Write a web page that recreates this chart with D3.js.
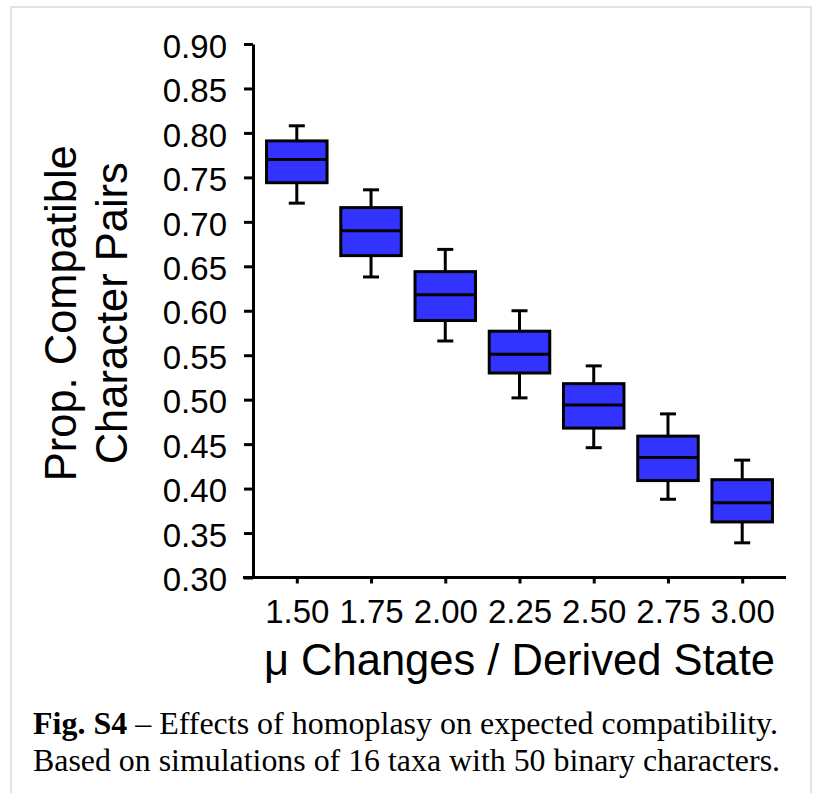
<!DOCTYPE html>
<html>
<head>
<meta charset="utf-8">
<script src="https://cdn.jsdelivr.net/npm/d3@7"></script>
<style>
  html, body { margin: 0; padding: 0; background: #fff; }
  svg { display: block; }
</style>
</head>
<body>
<div id="chart"></div>
<script>
// ---- data ----
const categories = ["1.50", "1.75", "2.00", "2.25", "2.50", "2.75", "3.00"];
const whiskerHigh = [0.808, 0.736, 0.669, 0.600, 0.538, 0.484, 0.432];
const q3Values    = [0.791, 0.716, 0.644, 0.577, 0.518, 0.459, 0.410];
const medians     = [0.770, 0.690, 0.618, 0.551, 0.494, 0.435, 0.384];
const q1Values    = [0.744, 0.662, 0.589, 0.530, 0.468, 0.409, 0.3625];
const whiskerLow  = [0.721, 0.638, 0.566, 0.502, 0.446, 0.388, 0.339];
const yTickValues = [0.30, 0.35, 0.40, 0.45, 0.50, 0.55, 0.60, 0.65, 0.70, 0.75, 0.80, 0.85, 0.90];
const yTitleLines = ["Prop. Compatible", "Character Pairs"];
const xTitle = "\u03bc Changes / Derived State";
const captionBold = "Fig. S4";
const captionRest1 = " \u2013 Effects of homoplasy on expected compatibility.";
const captionLine2 = "Based on simulations of 16 taxa with 50 binary characters.";

const boxes = categories.map((c, i) => ({
  cat: c, hi: whiskerHigh[i], q3: q3Values[i], med: medians[i], q1: q1Values[i], lo: whiskerLow[i]
}));

// ---- layout ----
const W = 813, H = 793;
const plot = { left: 253, right: 786, top: 44, bottom: 577.5 };
const sans = "'Liberation Sans', Arial, Helvetica, sans-serif";
const serif = "'Liberation Serif', 'Times New Roman', Times, serif";
const boxFill = "#3333ff";
const lw = 3;

const svg = d3.select("#chart").append("svg")
  .attr("width", W).attr("height", H);

svg.append("rect").attr("width", W).attr("height", H).attr("fill", "#fff");
svg.append("rect")
  .attr("x", 11).attr("y", 7).attr("width", 800).attr("height", 820)
  .attr("fill", "none").attr("stroke", "#e2e2e2").attr("stroke-width", 2);

const x = d3.scalePoint().domain(categories).range([plot.left, plot.right]).padding(0.59);
const y = d3.scaleLinear().domain([0.30, 0.90]).range([plot.bottom, plot.top]);
const boxW = x.step() * 0.815;
const capW = 16;

// ---- boxes ----
const g = svg.append("g");
const bx = g.selectAll("g.box").data(boxes).join("g").attr("class", "box");

// whiskers
bx.append("line")
  .attr("x1", d => x(d.cat)).attr("x2", d => x(d.cat))
  .attr("y1", d => y(d.hi)).attr("y2", d => y(d.q3))
  .attr("stroke", "#000").attr("stroke-width", lw);
bx.append("line")
  .attr("x1", d => x(d.cat)).attr("x2", d => x(d.cat))
  .attr("y1", d => y(d.q1)).attr("y2", d => y(d.lo))
  .attr("stroke", "#000").attr("stroke-width", lw);
// caps
bx.append("line")
  .attr("x1", d => x(d.cat) - capW / 2).attr("x2", d => x(d.cat) + capW / 2)
  .attr("y1", d => y(d.hi)).attr("y2", d => y(d.hi))
  .attr("stroke", "#000").attr("stroke-width", lw);
bx.append("line")
  .attr("x1", d => x(d.cat) - capW / 2).attr("x2", d => x(d.cat) + capW / 2)
  .attr("y1", d => y(d.lo)).attr("y2", d => y(d.lo))
  .attr("stroke", "#000").attr("stroke-width", lw);
// box
bx.append("rect")
  .attr("x", d => x(d.cat) - boxW / 2)
  .attr("y", d => y(d.q3))
  .attr("width", boxW)
  .attr("height", d => y(d.q1) - y(d.q3))
  .attr("fill", boxFill).attr("stroke", "#000").attr("stroke-width", lw);
// median
bx.append("line")
  .attr("x1", d => x(d.cat) - boxW / 2).attr("x2", d => x(d.cat) + boxW / 2)
  .attr("y1", d => y(d.med)).attr("y2", d => y(d.med))
  .attr("stroke", "#000").attr("stroke-width", lw);

// ---- axes ----
const yAxis = d3.axisLeft(y).tickValues(yTickValues).tickFormat(d3.format(".2f"))
  .tickSize(9).tickSizeOuter(0).tickPadding(17);
const gy = svg.append("g").attr("transform", `translate(${plot.left},0)`).call(yAxis);
gy.select(".domain").attr("stroke-width", lw);
gy.selectAll(".tick line").attr("stroke-width", lw);
gy.selectAll(".tick text").attr("font-family", sans).attr("font-size", 33).attr("fill", "#000")
  .attr("dy", "0.4em");

const xAxis = d3.axisBottom(x).tickSize(6).tickSizeOuter(0).tickPadding(16);
const gx = svg.append("g").attr("transform", `translate(0,${plot.bottom})`).call(xAxis);
gx.select(".domain").remove();
gx.append("line").attr("x1", plot.left - 10).attr("x2", plot.right)
  .attr("y1", 0).attr("y2", 0).attr("stroke", "#000").attr("stroke-width", lw);
gx.selectAll(".tick line").attr("stroke-width", lw);
gx.selectAll(".tick text").attr("font-family", sans).attr("font-size", 33).attr("fill", "#000");

// ---- titles ----
const yMid = (plot.top + plot.bottom) / 2 + 2.5;
const yTitleX = [76, 127];
yTitleLines.forEach((t, i) => {
  svg.append("text")
    .attr("transform", `translate(${yTitleX[i]},${yMid}) rotate(-90)`)
    .attr("text-anchor", "middle")
    .attr("font-family", sans).attr("font-size", 43.5).attr("fill", "#000")
    .text(t);
});

svg.append("text")
  .attr("x", (x(categories[0]) + x(categories[categories.length - 1])) / 2)
  .attr("y", 675)
  .attr("text-anchor", "middle")
  .attr("font-family", sans).attr("font-size", 43.5).attr("fill", "#000")
  .text(xTitle);

// ---- caption ----
const cap1 = svg.append("text").attr("x", 33).attr("y", 734)
  .attr("font-family", serif).attr("font-size", 31.5).attr("fill", "#000")
  .attr("textLength", 745).attr("lengthAdjust", "spacingAndGlyphs");
cap1.append("tspan").attr("font-family", serif).attr("font-weight", "bold").text(captionBold);
cap1.append("tspan").attr("font-family", serif).text(captionRest1);

svg.append("text").attr("x", 33).attr("y", 771)
  .attr("font-family", serif).attr("font-size", 31.5).attr("fill", "#000")
  .attr("textLength", 747).attr("lengthAdjust", "spacingAndGlyphs")
  .text(captionLine2);
</script>
</body>
</html>
